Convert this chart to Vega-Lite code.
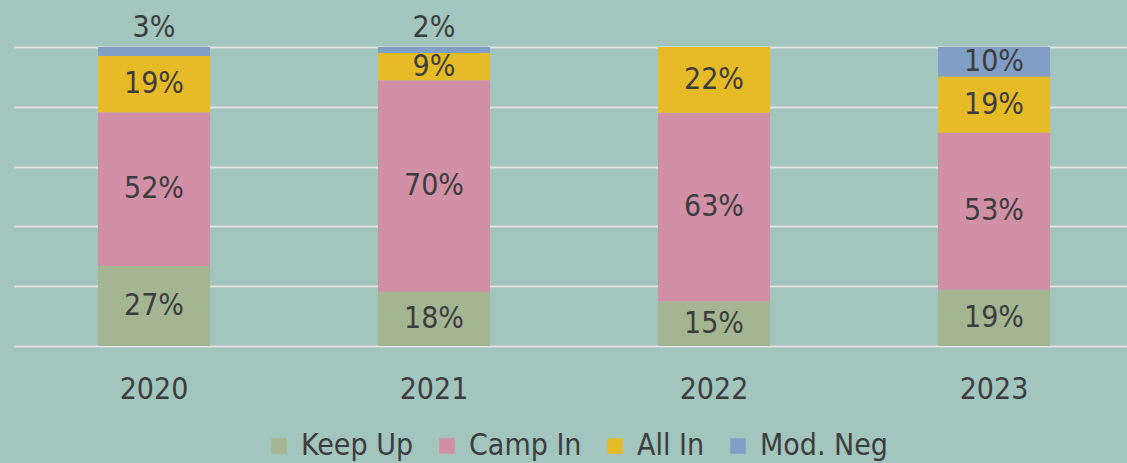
{
  "$schema": "https://vega.github.io/schema/vega-lite/v6.json",
  "width": 1120,
  "height": 299,
  "padding": {"left": 14, "top": 47, "right": 0, "bottom": 117},
  "autosize": {"type": "none"},
  "background": "#a2c5bd",
  "config": {
    "view": {"stroke": null},
    "font": "DejaVu Sans Condensed, sans-serif"
  },
  "data": {
    "values": [
      {"year": "2020", "category": "Keep Up", "value": 27, "order": 1},
      {"year": "2020", "category": "Camp In", "value": 52, "order": 2},
      {"year": "2020", "category": "All In", "value": 19, "order": 3},
      {"year": "2020", "category": "Mod. Neg", "value": 3, "order": 4},
      {"year": "2021", "category": "Keep Up", "value": 18, "order": 1},
      {"year": "2021", "category": "Camp In", "value": 70, "order": 2},
      {"year": "2021", "category": "All In", "value": 9, "order": 3},
      {"year": "2021", "category": "Mod. Neg", "value": 2, "order": 4},
      {"year": "2022", "category": "Keep Up", "value": 15, "order": 1},
      {"year": "2022", "category": "Camp In", "value": 63, "order": 2},
      {"year": "2022", "category": "All In", "value": 22, "order": 3},
      {"year": "2023", "category": "Keep Up", "value": 19, "order": 1},
      {"year": "2023", "category": "Camp In", "value": 53, "order": 2},
      {"year": "2023", "category": "All In", "value": 19, "order": 3},
      {"year": "2023", "category": "Mod. Neg", "value": 10, "order": 4}
    ]
  },
  "transform": [
    {"stack": "value", "groupby": ["year"], "sort": [{"field": "order"}], "offset": "normalize", "as": ["y0", "y1"]},
    {"calculate": "(datum.y0 + datum.y1) / 2", "as": "ymid"},
    {"calculate": "datum.value + '%'", "as": "label"}
  ],
  "encoding": {
    "x": {
      "field": "year", "type": "nominal",
      "scale": {"paddingInner": 0.6, "paddingOuter": 0.3},
      "axis": {"title": null, "domain": false, "ticks": false, "labelAngle": 0, "labelFontSize": 30, "labelColor": "#3d3d3d", "labelPadding": 28, "labelFont": "DejaVu Sans Condensed, sans-serif"}
    }
  },
  "layer": [
    {
      "mark": {"type": "bar"},
      "encoding": {
        "y": {
          "field": "y1", "type": "quantitative",
          "scale": {"domain": [0, 1], "nice": false},
          "axis": {"title": null, "domain": false, "ticks": false, "labels": false, "grid": true, "gridColor": "#e2e2e2", "gridWidth": 2, "values": [0, 0.2, 0.4, 0.6, 0.8, 1]}
        },
        "y2": {"field": "y0"},
        "color": {
          "field": "category", "type": "nominal",
          "scale": {"domain": ["Keep Up", "Camp In", "All In", "Mod. Neg"], "range": ["#a4b592", "#d190a6", "#e6bb27", "#819fc6"]},
          "legend": {
            "title": null, "orient": "none", "direction": "horizontal",
            "legendX": 250, "legendY": 384,
            "symbolType": "square", "symbolSize": 240, "symbolStrokeWidth": 0, "symbolOpacity": 1,
            "labelFontSize": 30, "labelColor": "#3d3d3d", "labelOffset": 7, "columnPadding": 18,
            "labelFont": "DejaVu Sans Condensed, sans-serif"
          }
        }
      }
    },
    {
      "transform": [{"filter": "datum.value >= 5"}],
      "mark": {"type": "text", "fontSize": 30, "color": "#3d3d3d", "baseline": "middle", "align": "center"},
      "encoding": {
        "y": {"field": "ymid", "type": "quantitative"},
        "text": {"field": "label"}
      }
    },
    {
      "transform": [{"filter": "datum.value < 5"}],
      "mark": {"type": "text", "fontSize": 30, "color": "#3d3d3d", "baseline": "bottom", "align": "center", "dy": -4},
      "encoding": {
        "y": {"field": "y1", "type": "quantitative"},
        "text": {"field": "label"}
      }
    }
  ]
}
